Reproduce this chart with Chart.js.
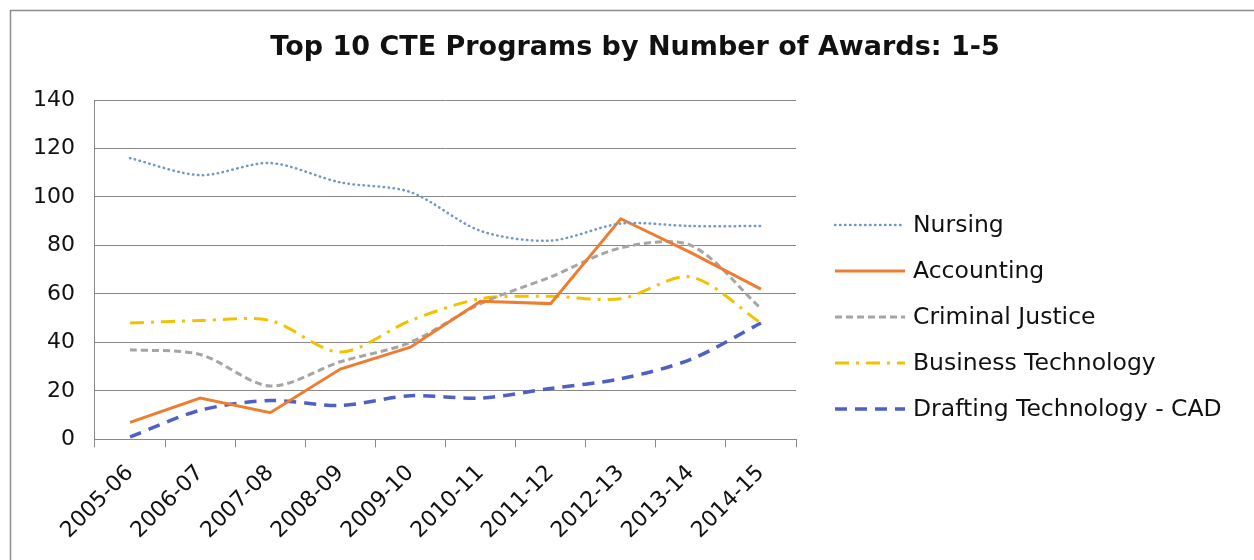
<!DOCTYPE html>
<html>
<head>
<meta charset="utf-8">
<script src="https://cdn.jsdelivr.net/npm/chart.js@4.4.0/dist/chart.umd.min.js"></script>
<style>
  html, body { margin: 0; padding: 0; background: #fff; }
  #wrap { width: 1254px; height: 560px; position: relative; }
</style>
</head>
<body>
<div id="wrap"><canvas id="myChart"></canvas></div>
<script>
// school years on the x axis
var years = ['2005-06', '2006-07', '2007-08', '2008-09', '2009-10',
             '2010-11', '2011-12', '2012-13', '2013-14', '2014-15'];

// awards per program
var nursing         = [116, 109, 114, 106, 102, 86, 82, 89, 88, 88];
var accounting      = [7, 17, 11, 29, 38, 57, 56, 91, 77, 62];
var criminalJustice = [37, 35, 22, 32, 40, 56, 67, 79, 80, 54];
var businessTech    = [48, 49, 49, 36, 49, 58, 59, 58, 67, 48];
var draftingCad     = [1, 12, 16, 14, 18, 17, 21, 25, 33, 48];

var yTicks = [0, 20, 40, 60, 80, 100, 120, 140];

var chartTitle = 'Top 10 CTE Programs by Number of Awards: 1-5';

var FONT = "'DejaVu Sans', 'Liberation Sans', Arial, sans-serif";

// thin grey frame round the whole chart
const frame = {
  id: 'frame',
  afterDraw(chart) {
    const ctx = chart.ctx;
    ctx.save();
    ctx.strokeStyle = '#8c8c8c';
    ctx.lineWidth = 1.5;
    ctx.beginPath();
    ctx.moveTo(10.5, chart.height);
    ctx.lineTo(10.5, 10.5);
    ctx.lineTo(chart.width, 10.5);
    ctx.stroke();
    ctx.restore();
  }
};

// title centred over the whole canvas (the legend space is layout padding)
const titleText = {
  id: 'titleText',
  afterDraw(chart) {
    const ctx = chart.ctx;
    ctx.save();
    ctx.fillStyle = '#111';
    ctx.font = 'bold 27px ' + FONT;
    ctx.textAlign = 'center';
    ctx.textBaseline = 'middle';
    ctx.fillText(chartTitle, chart.width / 2 + 8, 48);
    ctx.restore();
  }
};

// legend on the right with the real dash patterns of each series
const sideLegend = {
  id: 'sideLegend',
  afterDraw(chart) {
    const ctx = chart.ctx;
    const area = chart.chartArea;
    const x0 = area.right + 39;
    let y = area.top + 125;
    ctx.save();
    chart.data.datasets.forEach(function (ds) {
      ctx.save();
      ctx.strokeStyle = ds.borderColor;
      ctx.lineWidth = ds.borderWidth;
      ctx.lineCap = ds.borderCapStyle || 'butt';
      ctx.setLineDash(ds.borderDash || []);
      ctx.beginPath();
      ctx.moveTo(x0, y);
      ctx.lineTo(x0 + 70, y);
      ctx.stroke();
      ctx.restore();
      ctx.fillStyle = '#111';
      ctx.font = '23.5px ' + FONT;
      ctx.textAlign = 'left';
      ctx.textBaseline = 'middle';
      ctx.fillText(ds.label, x0 + 78, y + 1);
      y += 46;
    });
    ctx.restore();
  }
};

function chart() {
  var ctx = document.getElementById('myChart');
  new Chart(ctx, {
    type: 'line',
    data: {
      labels: years,
      datasets: [
        {
          label: 'Nursing',
          data: nursing,
          borderColor: '#7298c6',
          borderWidth: 2.5,
          borderDash: [0.5, 4.5],
          borderCapStyle: 'round',
          tension: 0.3
        },
        {
          label: 'Accounting',
          data: accounting,
          borderColor: '#ED7D31',
          borderWidth: 3,
          tension: 0
        },
        {
          label: 'Criminal Justice',
          data: criminalJustice,
          borderColor: '#A5A5A5',
          borderWidth: 3,
          borderDash: [7, 4],
          tension: 0.3
        },
        {
          label: 'Business Technology',
          data: businessTech,
          borderColor: '#F2C200',
          borderWidth: 3,
          borderDash: [14, 7, 3, 7],
          tension: 0.3
        },
        {
          label: 'Drafting Technology - CAD',
          data: draftingCad,
          borderColor: '#4F5FC4',
          borderWidth: 3.5,
          borderDash: [12, 8],
          tension: 0.3
        }
      ]
    },
    options: {
      responsive: true,
      maintainAspectRatio: false,
      animation: false,
      elements: { point: { radius: 0, hoverRadius: 0 } },
      layout: { padding: { left: 13, right: 458, top: 100, bottom: 3 } },
      plugins: {
        title: { display: false },
        legend: { display: false },
        tooltip: { enabled: false }
      },
      scales: {
        x: {
          offset: true,
          afterFit: function (scale) {
            // rotated labels may hang left of the axis
            scale.paddingLeft = 0;
            scale.paddingRight = 0;
          },
          grid: {
            offset: true,
            drawOnChartArea: false,
            tickLength: 8,
            color: '#888'
          },
          border: { color: '#888', width: 1 },
          ticks: {
            minRotation: 45,
            maxRotation: 45,
            padding: 13,
            color: '#111',
            font: { family: FONT, size: 22 }
          }
        },
        y: {
          min: yTicks[0],
          max: yTicks[yTicks.length - 1],
          afterBuildTicks: function (axis) {
            axis.ticks = yTicks.map(function (v) { return { value: v }; });
          },
          grid: { color: '#888', drawTicks: false },
          border: { color: '#888', width: 1 },
          ticks: {
            padding: 20,
            color: '#111',
            font: { family: FONT, size: 22 }
          }
        }
      }
    },
    plugins: [frame, titleText, sideLegend]
  });
}

chart();
</script>
</body>
</html>
